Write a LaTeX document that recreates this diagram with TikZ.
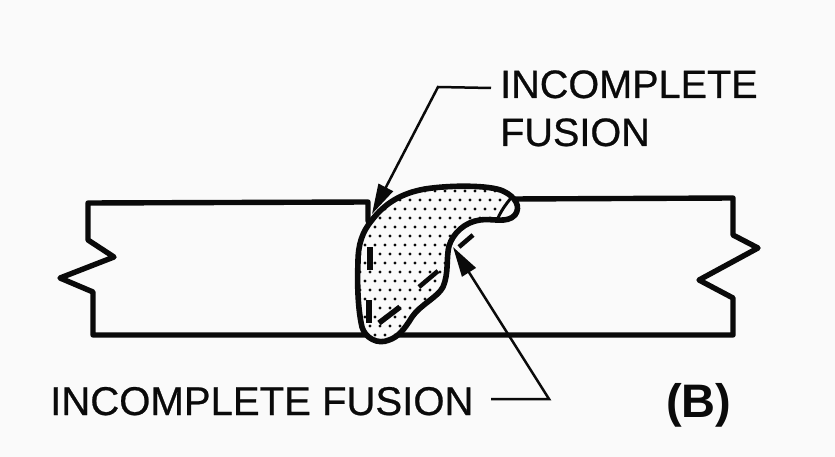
\documentclass[tikz,border=0pt]{standalone}
\usepackage{fontspec}
\setmainfont{Liberation Sans}
\newfontfamily\heavy{Liberation Sans}[FakeBold=0.6]
\usetikzlibrary{arrows.meta}
\definecolor{ink}{HTML}{0A0A0A}
\definecolor{paper}{HTML}{FAFAFA}
\tikzset{
  plate/.style={draw=ink,line width=5.4pt,line join=round,line cap=round},
  bead/.style={draw=ink,line width=5.6pt,line join=round},
  slag/.style={draw=ink,line width=4.6pt},
  leader/.style={draw=ink,line width=2.5pt},
  tipped/.style={leader,-{Triangle[length=30pt,width=16pt]}},
  lbl/.style={inner sep=0pt,text=ink,font=\heavy\fontsize{39.6}{39.6}\selectfont,anchor=base west},
  longlbl/.style={lbl,font=\heavy\fontsize{40.1}{40.1}\selectfont},
  tag/.style={inner sep=0pt,text=ink,font=\bfseries\fontsize{47}{47}\selectfont,anchor=base west},
  speck/.style={fill=ink,circle,inner sep=0pt,minimum size=3.4pt}
}
\begin{document}
\begin{tikzpicture}[x=1pt,y=-1pt]
\useasboundingbox[fill=paper] (0,0) rectangle (835,457);
% plates
\draw[plate] (368,221) -- (368,202) -- (88,203) -- (88,240) -- (114,257) -- (60,278) -- (93,292) -- (93,335) -- (366,335);
\draw[plate] (512,199) -- (733,198) -- (733,235) -- (758,248) -- (699,280) -- (733,298) -- (733,335) -- (392,335);
% weld bead
\def\beadpath{(372,220) .. controls (362,232) and (358,245) .. (358,262)
  .. controls (357,285) and (358,310) .. (362,327)
  .. controls (365,338) and (378,345) .. (389,340)
  .. controls (398,337) and (404,330) .. (412,317)
  .. controls (420,305) and (438,297) .. (443,287)
  .. controls (449,273) and (446,258) .. (449,246)
  .. controls (453,233) and (465,222) .. (480,220)
  .. controls (492,218) and (507,224) .. (515,215)
  .. controls (521,207) and (516,197) .. (503,191)
  .. controls (490,185) and (450,185) .. (425,189)
  .. controls (402,193) and (385,203) .. (372,220) -- cycle}
\fill[paper] \beadpath;
\begin{scope}
\clip \beadpath;
\foreach \i in {0,...,17}{\foreach \j in {0,...,17}{
  \node[speck] at ({350+\i*10+mod(\j,2)*5},{182+\j*9}) {};
}}
\fill[paper] (511,196) .. controls (506,203) and (501,211) .. (498,221) -- (522,221) -- (522,196) -- cycle;
\end{scope}
\draw[bead] \beadpath;
% unfused bits
\draw[slag,line width=3pt] (511,198) .. controls (506,204) and (501,211) .. (498,218);
\draw[slag,line width=6pt] (370,247) -- (370,270);
\draw[slag] (438,271) -- (419,287);
\draw[slag,line width=5.5pt] (400,307) -- (379,323);
\draw[slag,line width=5.5pt] (369,300) -- (369,323);
\draw[slag] (473,235) -- (459,247);
% labels
\node[lbl] (top1) at (500,98) {INCOMPLETE};
\node[lbl] (top2) at (500,146) {FUSION};
\node[longlbl] (bot) at (50,415) {INCOMPLETE FUSION};
\node[tag] (part) at (666,417) {(B)};
% leaders
\coordinate (tipa) at (372,214);
\coordinate (benda) at (438,87);
\coordinate (starta) at (491,88);
\coordinate (tipb) at (453,247);
\coordinate (bendb) at (549,399);
\coordinate (startb) at (491,399);
\draw[tipped] (starta) -- (benda) -- (tipa);
\draw[tipped] (startb) -- (bendb) -- (tipb);
\end{tikzpicture}
\end{document}
